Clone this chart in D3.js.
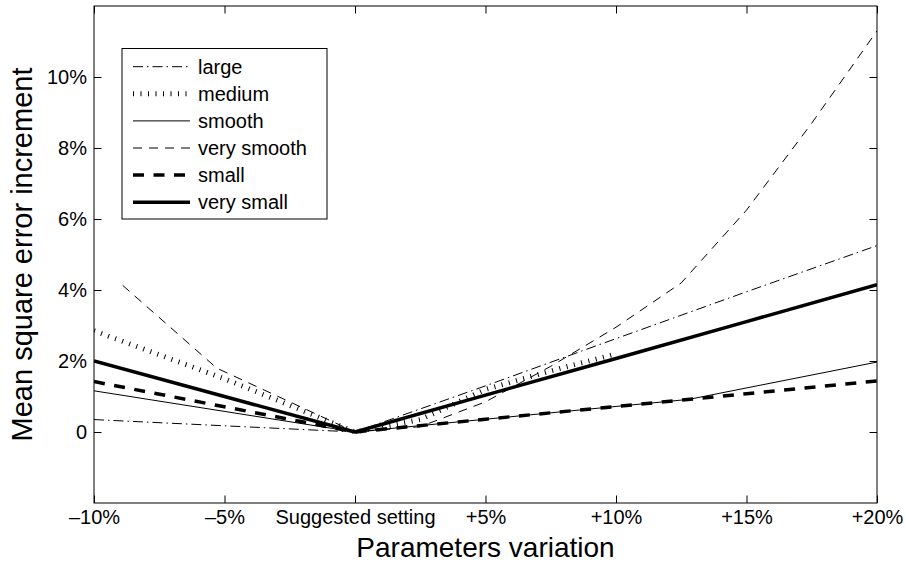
<!DOCTYPE html>
<html>
<head>
<meta charset="utf-8">
<script src="https://cdn.jsdelivr.net/npm/d3@7"></script>
<style>
  body { margin: 0; background: #fff; }
</style>
</head>
<body>
<div id="chart"></div>
<script>
// tick values and labels
var xTicks = [-10, -5, 0, 5, 10, 15, 20];
var xTickLabels = ["\u201310%", "\u20135%", "Suggested setting", "+5%", "+10%", "+15%", "+20%"];
var yTicks = [0, 2, 4, 6, 8, 10];
var yTickLabels = ["0", "2%", "4%", "6%", "8%", "10%"];

// series names (legend order)
var seriesNames = ["large", "medium", "smooth", "very smooth", "small", "very small"];

// values (x = parameter variation %, y = MSE increment %)
var largeX = [-10, 0, 5, 10, 15, 20];
var largeY = [0.35, 0, 1.3, 2.63, 3.95, 5.25];
var mediumX = [-10, -5, 0, 2.5, 5, 7.5, 10];
var mediumY = [2.85, 1.5, 0, 0.35, 1.2, 1.72, 2.2];
var smoothX = [-10, 0, 5, 10, 12.8, 20];
var smoothY = [1.16, 0, 0.36, 0.72, 0.92, 1.97];
var verySmoothX = [-8.9, -5.3, 0, 2.5, 5, 7.5, 10, 12.5, 15, 17.5, 20];
var verySmoothY = [4.13, 1.8, 0, 0.15, 0.85, 1.85, 2.95, 4.2, 6.25, 8.7, 11.3];
var smallX = [-10, -5, 0, 5, 10, 15, 20];
var smallY = [1.42, 0.71, 0, 0.36, 0.72, 1.08, 1.44];
var verySmallX = [-10, -5, 0, 5, 10, 15, 20];
var verySmallY = [2.0, 1.0, 0, 1.04, 2.07, 3.11, 4.15];

var seriesX = [largeX, mediumX, smoothX, verySmoothX, smallX, verySmallX];
var seriesY = [largeY, mediumY, smoothY, verySmoothY, smallY, verySmallY];

// line styles
var styles = [
  { width: 1, dash: "10,4,1.5,4" },
  { width: 5, dash: "1,6.5" },
  { width: 1, dash: null },
  { width: 1, dash: "9,7" },
  { width: 3.5, dash: "11,9.5" },
  { width: 3.5, dash: null }
];

var width = 905;
var height = 563;
var plotLeft = 94, plotRight = 877, plotTop = 6, plotBottom = 503;
var font = "'Liberation Sans', Arial, Helvetica, sans-serif";
var tickSize = 7.5;

var svg = d3.select("#chart")
  .append("svg")
  .attr("width", width)
  .attr("height", height);

var x = d3.scaleLinear().domain([-10, 20]).range([plotLeft, plotRight]);
var y = d3.scaleLinear().domain([-2, 12]).range([plotBottom, plotTop]);

svg.append("defs").append("clipPath")
  .attr("id", "plot-clip")
  .append("rect")
  .attr("x", plotLeft).attr("y", plotTop)
  .attr("width", plotRight - plotLeft).attr("height", plotBottom - plotTop);

// axes with inward ticks
var xAxis = d3.axisBottom(x).tickValues(xTicks)
  .tickFormat(function(d, i) { return xTickLabels[i]; })
  .tickSize(-tickSize).tickSizeOuter(0).tickPadding(7);
var yAxis = d3.axisLeft(y).tickValues(yTicks)
  .tickFormat(function(d, i) { return yTickLabels[i]; })
  .tickSize(-tickSize).tickSizeOuter(0).tickPadding(7);

svg.append("g")
  .attr("transform", "translate(0," + plotBottom + ")")
  .call(xAxis);
svg.append("g")
  .attr("transform", "translate(" + plotLeft + ",0)")
  .call(yAxis);
svg.append("g")
  .attr("transform", "translate(0," + plotTop + ")")
  .call(d3.axisTop(x).tickValues(xTicks).tickFormat("").tickSize(-tickSize).tickSizeOuter(0));
svg.append("g")
  .attr("transform", "translate(" + plotRight + ",0)")
  .call(d3.axisRight(y).tickValues(yTicks).tickFormat("").tickSize(-tickSize).tickSizeOuter(0));

svg.selectAll(".domain").remove();
svg.selectAll(".tick line").attr("stroke", "#000").attr("stroke-width", 1);
svg.selectAll(".tick text")
  .style("font-family", font)
  .style("font-size", "20px")
  .attr("fill", "#000");

// box
svg.append("rect")
  .attr("x", plotLeft).attr("y", plotTop)
  .attr("width", plotRight - plotLeft).attr("height", plotBottom - plotTop)
  .attr("fill", "none")
  .attr("stroke", "#000")
  .attr("stroke-width", 1);

// lines
var line = d3.line()
  .x(function(d) { return x(d[0]); })
  .y(function(d) { return y(d[1]); });

var plot = svg.append("g").attr("clip-path", "url(#plot-clip)");

seriesNames.forEach(function(name, i) {
  var pts = seriesX[i].map(function(v, j) { return [v, seriesY[i][j]]; });
  plot.append("path")
    .datum(pts)
    .attr("d", line)
    .attr("fill", "none")
    .attr("stroke", "#000")
    .attr("stroke-width", styles[i].width)
    .attr("stroke-dasharray", styles[i].dash)
    .attr("stroke-linejoin", "round");
});

// legend
var legend = svg.append("g");
legend.append("rect")
  .attr("x", 122).attr("y", 48.5)
  .attr("width", 205).attr("height", 170.5)
  .attr("fill", "#fff")
  .attr("stroke", "#000")
  .attr("stroke-width", 1);

seriesNames.forEach(function(name, i) {
  var ly = 66.7 + i * 27.1;
  legend.append("line")
    .attr("x1", 133).attr("x2", 190)
    .attr("y1", ly).attr("y2", ly)
    .attr("stroke", "#000")
    .attr("stroke-width", styles[i].width)
    .attr("stroke-dasharray", styles[i].dash);
  legend.append("text")
    .attr("x", 198)
    .attr("y", ly)
    .attr("dy", "0.35em")
    .style("font-family", font)
    .style("font-size", "20px")
    .text(name);
});

// axis titles
svg.append("text")
  .attr("x", (plotLeft + plotRight) / 2)
  .attr("y", 557)
  .style("text-anchor", "middle")
  .style("font-family", font)
  .style("font-size", "28px")
  .text("Parameters variation");

svg.append("text")
  .attr("transform", "translate(32," + ((plotTop + plotBottom) / 2) + ") rotate(-90)")
  .style("text-anchor", "middle")
  .style("font-family", font)
  .style("font-size", "29px")
  .text("Mean square error increment");
</script>
</body>
</html>
